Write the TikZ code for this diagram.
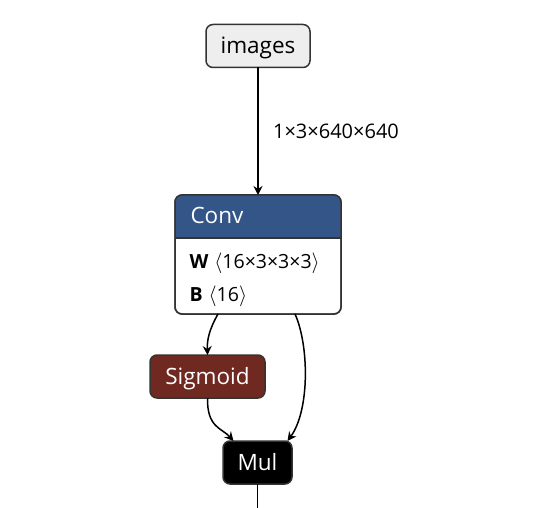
\documentclass[tikz,border=0pt]{standalone}
\usepackage{fontspec}
\setmainfont{Open Sans}
\usetikzlibrary{arrows.meta}
\definecolor{convblue}{RGB}{51,85,136}
\definecolor{sigred}{RGB}{112,41,33}
\definecolor{inputgray}{RGB}{238,238,238}
\definecolor{bordergray}{RGB}{51,51,51}
\tikzset{
	every node/.style={font=\fontsize{22.5}{26}\selectfont},
	box/.style={shape=rectangle,rounded corners=7,line width=1.5,draw=bordergray,minimum height=43,inner sep=0,outer sep=0,text height=17,text depth=2},
	input-node/.style={box,fill=inputgray,text=black,minimum width=104},
	sigmoid-node/.style={box,fill=sigred,text=white,minimum width=115},
	mul-node/.style={box,fill=black,text=white,minimum width=69},
	conv-node/.style={box,fill=white,minimum width=166,minimum height=119},
	attr/.style={anchor=base west,font=\fontsize{19.5}{22}\selectfont},
	wire/.style={line width=1.5,draw=black},
}
\tikzstyle{arrow} = [wire,-{Stealth[length=9,width=9,inset=3]}]

\begin{document}
\begin{tikzpicture}[x=1pt,y=-1pt]
	\useasboundingbox (0,0) rectangle (544,508);

	\node[input-node] (images) at (258,46) {images};
	\node[conv-node] (conv) at (258,254.5) {};
	\node[sigmoid-node] (sigmoid) at (207.5,376.5) {Sigmoid};
	\node[mul-node] (mul) at (257.5,462.5) {Mul};
	\coordinate (out) at (257.5,508);

	% conv header
	\fill[convblue] ([yshift=-43]conv.north west) [rounded corners=7] -- (conv.north west) -- (conv.north east) [sharp corners] -- ([yshift=-43]conv.north east) -- cycle;
	\draw[bordergray,line width=1.5,rounded corners=7] (conv.north west) rectangle (conv.south east);
	\draw[bordergray,line width=1.5] ([yshift=-43]conv.north west) -- ([yshift=-43]conv.north east);
	\node[anchor=west,text=white,text height=17,text depth=2] (conv-label) at ([xshift=12,yshift=-21.5]conv.north west) {Conv};
	\node[attr] (conv-w) at (186,268) {\textbf{W}\hspace{6pt}$\langle$16×3×3×3$\rangle$};
	\node[attr] (conv-b) at (186,301) {\textbf{B}\hspace{6pt}$\langle$16$\rangle$};

	\path[arrow] (images.south) -- node[anchor=west,xshift=11,font=\fontsize{20}{24}\selectfont] (shape-label) {1×3×640×640} (conv.north);
	\draw[arrow] ([xshift=-40]conv.south) .. controls (209,330) and (207,340) .. (sigmoid.north);
	\draw[arrow] ([xshift=37]conv.south) .. controls (309,345) and (310,410) .. ([xshift=30]mul.north);
	\draw[arrow] (sigmoid.south) .. controls (207,428) and (222,428) .. ([xshift=-24]mul.north);
	\draw[wire] (mul.south) -- (out);
\end{tikzpicture}
\end{document}
